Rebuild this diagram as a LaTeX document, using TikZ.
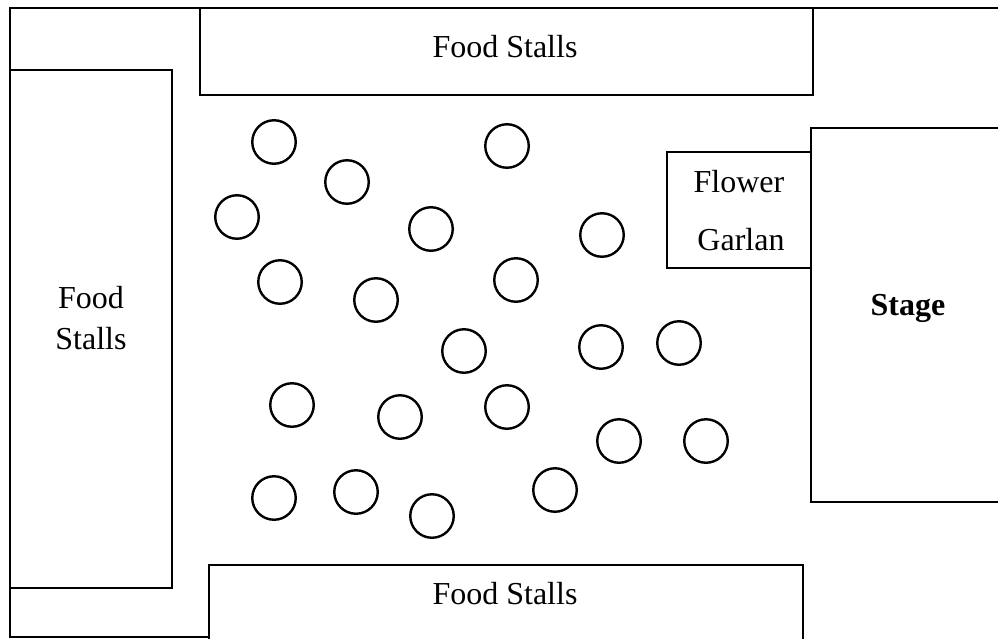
\documentclass[tikz,border=0pt]{standalone}
\usepackage{fontspec}
\setmainfont{Liberation Serif}
\begin{document}
\begin{tikzpicture}[x=0.75pt,y=-0.75pt,
  wall/.style={draw=black,line width=2pt,line join=miter},
  seat/.style={circle,draw=black,line width=1.8pt,minimum size=43.5*0.75pt,inner sep=0pt},
  lbl/.style={font=\fontsize{24}{29}\selectfont,anchor=base,inner sep=0pt}]
\useasboundingbox (0,0) rectangle (998,639);
% outer frame
\draw[wall] (998,8) -- (10,8) -- (10,637) -- (209,637);
% top food stalls
\draw[wall] (200,8) rectangle (813,95);
\node[lbl] (topfs) at (505,57) {Food Stalls};
% left food stalls
\draw[wall] (10,70) rectangle (172,588);
\node[lbl] (leftfs1) at (91,308) {Food};
\node[lbl] (leftfs2) at (91,349) {Stalls};
% bottom food stalls
\draw[wall] (209,639) -- (209,565) -- (803,565) -- (803,639);
\node[lbl] (botfs) at (505,604) {Food Stalls};
% stage
\draw[wall] (998,128) -- (811,128) -- (811,502) -- (998,502);
\node[lbl,font=\fontsize{24}{29}\selectfont\bfseries] (stage) at (908,315) {Stage};
% flower garland
\draw[wall] (667,152) rectangle (811,268);
\node[lbl] (flower1) at (739,192) {Flower};
\node[lbl] (flower2) at (741,250) {Garlan};
% seats
\foreach \n/\x/\y in {a/274/142, b/347/182, c/507/146, d/237/217, e/431/229, f/602/235,
  g/280/282, h/376/300, i/516/280, j/464/351, k/601/347, l/679/343,
  m/292/405, n/400/417, o/507/407, p/619/441, q/706/441,
  r/274/498, s/356/492, t/432/516, u/555/490}
  \node[seat] (seat\n) at (\x,\y) {};
\end{tikzpicture}
\end{document}
